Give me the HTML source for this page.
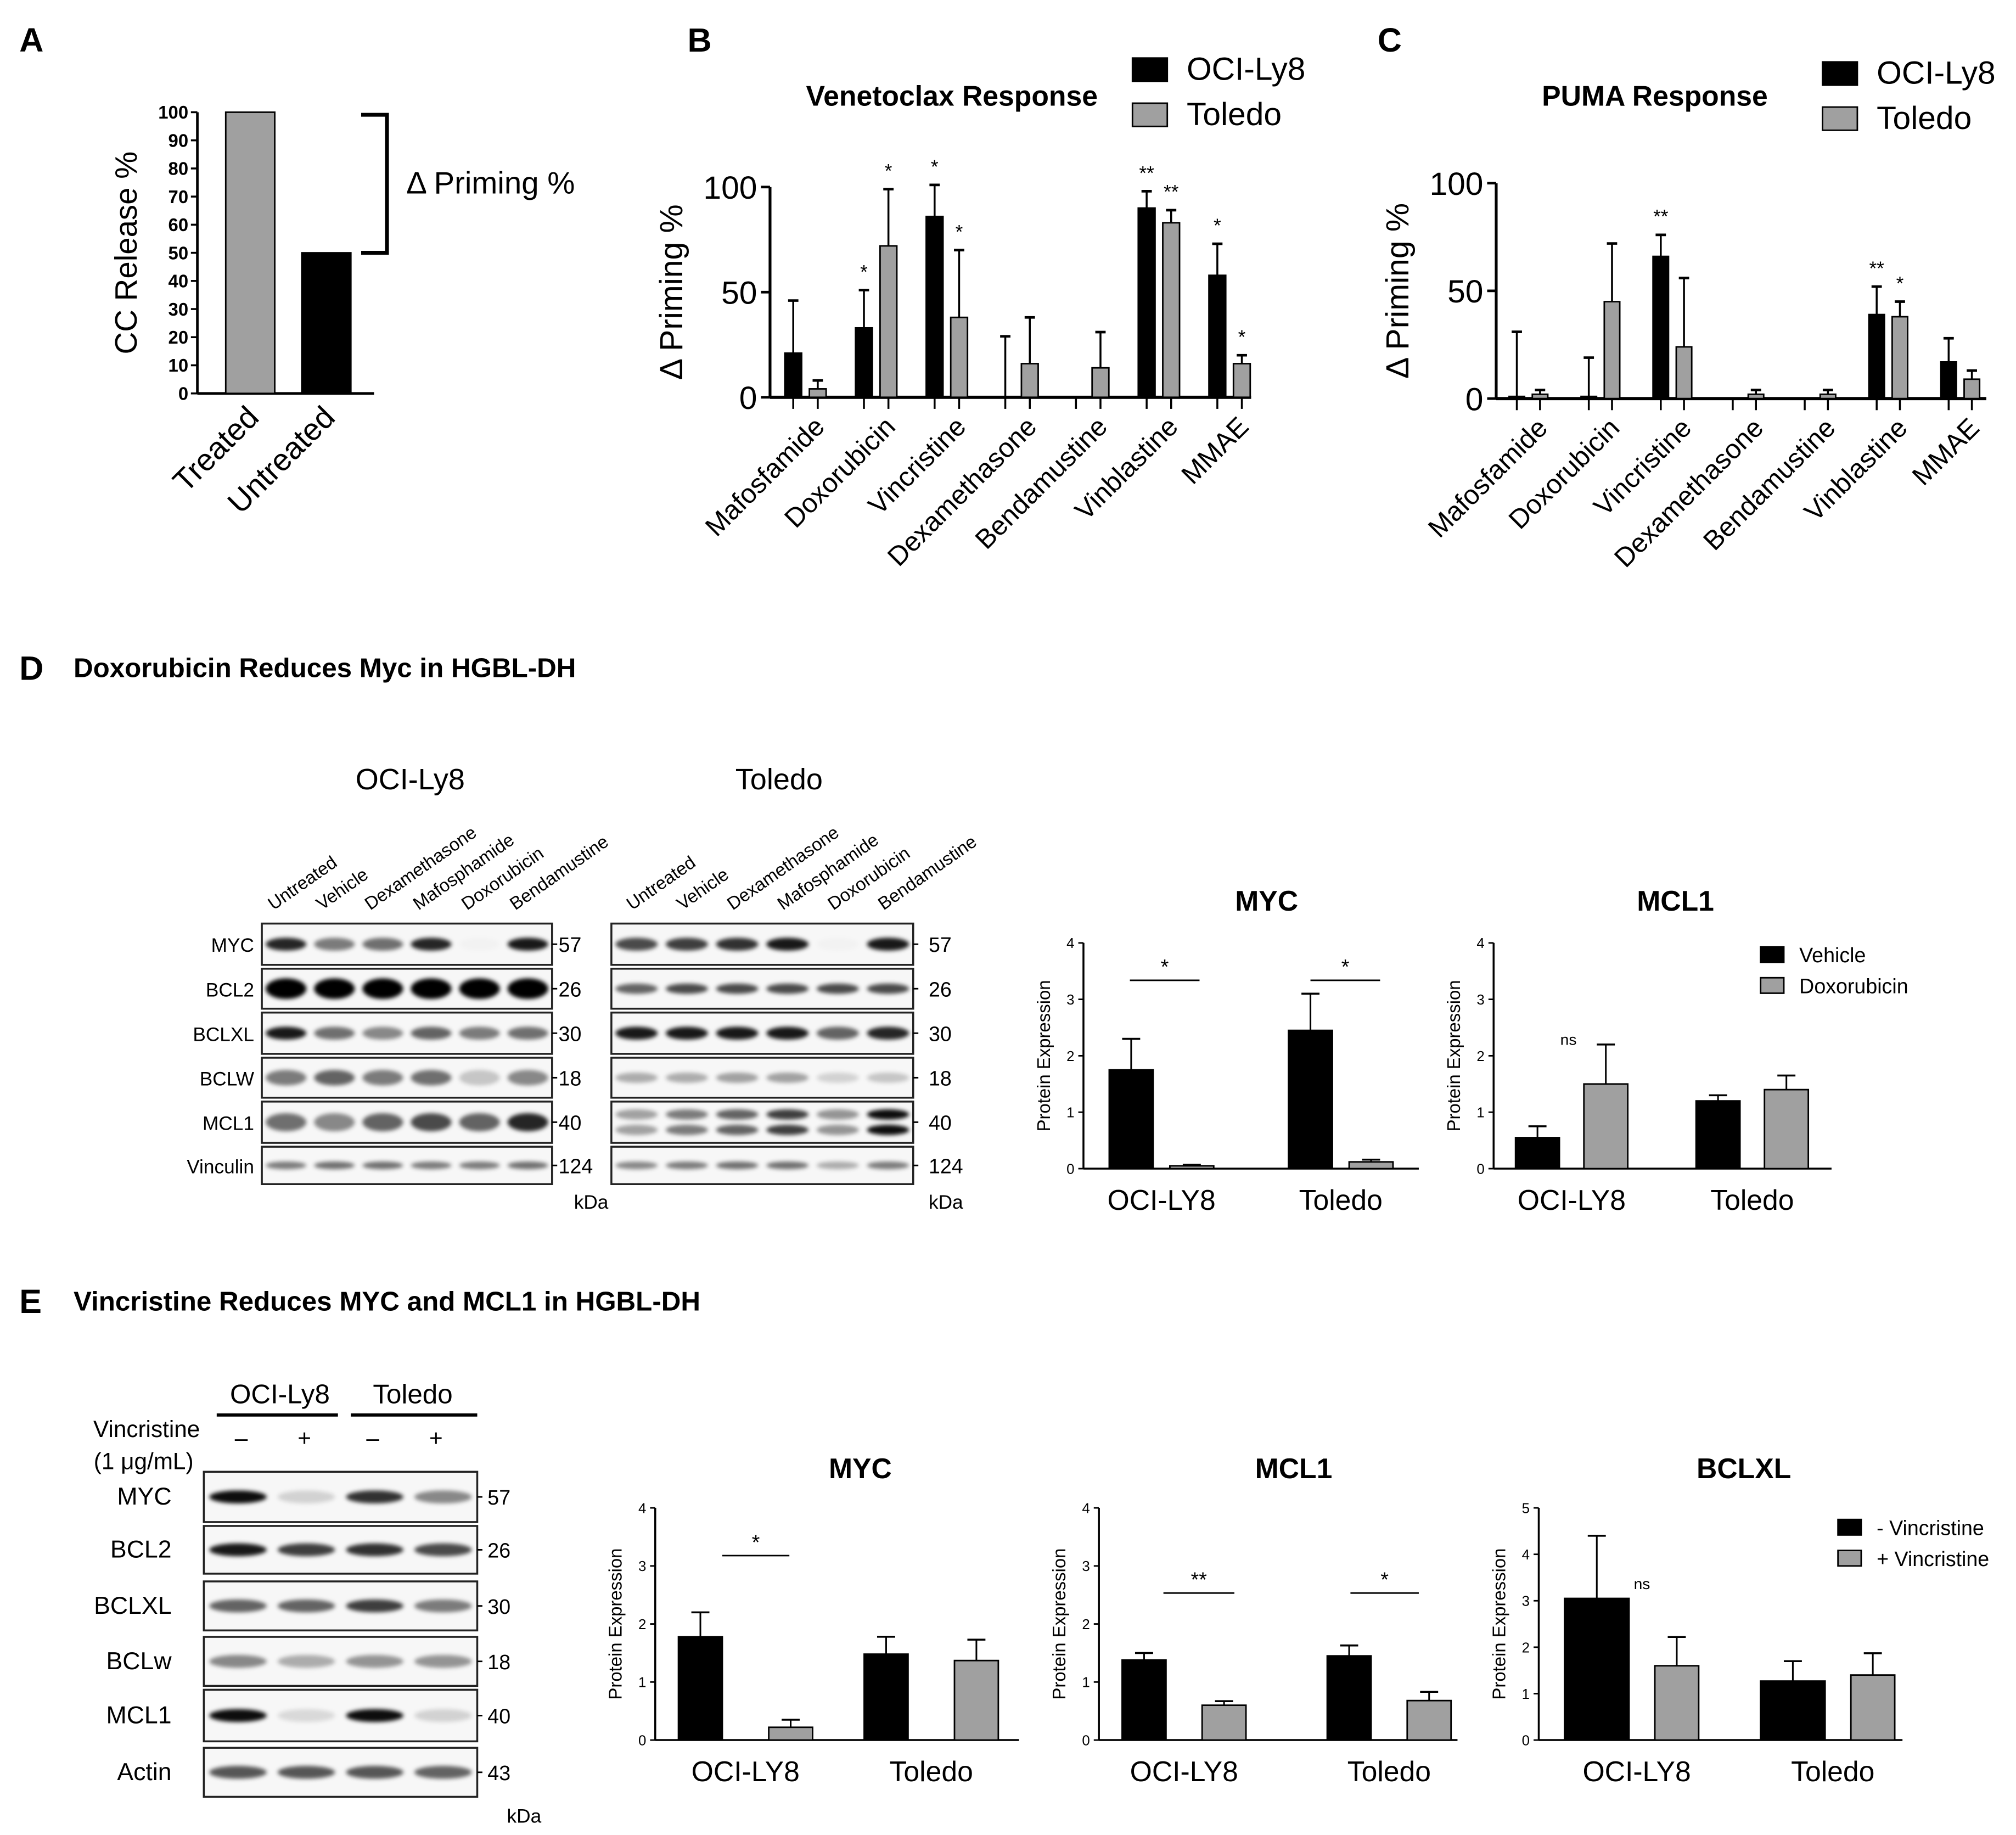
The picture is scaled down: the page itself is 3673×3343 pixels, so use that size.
<!DOCTYPE html>
<html><head><meta charset="utf-8"><style>
html,body{margin:0;padding:0;background:#fff;}
svg{display:block;font-family:"Liberation Sans",Arial,sans-serif;}
</style></head><body>
<svg id="fig" xmlns="http://www.w3.org/2000/svg" width="3673" height="3343" viewBox="0 0 1563 1422.6">
<defs><filter id="blur" x="-20%" y="-100%" width="140%" height="300%"><feGaussianBlur stdDeviation="1.6"/></filter></defs>
</svg>
<script>
// ---- Panel B data ----
const bCategories=["Mafosfamide","Doxorubicin","Vincristine","Dexamethasone","Bendamustine","Vinblastine","MMAE"];
const bOci=[21,33,86,0,0,90,58];
const bOciErr=[46,51,101,29,0,98,73];
const bTol=[4,72,38,16,14,83,16];
const bTolErr=[8,99,70,38,31,89,20];
const bOciSig=["","*","*","","","**","*"];
const bTolSig=["","*","*","","","**","*"];
// ---- Panel C data ----
const cOci=[1,1,66,0,0,39,17];
const cOciErr=[31,19,76,0,0,52,28];
const cTol=[2,45,24,2,2,38,9];
const cTolErr=[4,72,56,4,4,45,13];
const cOciSig=["","","**","","","**",""];
const cTolSig=["","","","","","*",""];
// ---- Panel A data ----
const aCategories=["Treated","Untreated"];
const aValues=[100,50];
const aTicks=[0,10,20,30,40,50,60,70,80,90,100];
// ---- Panel D/E small charts ----
const cellLines=["OCI-LY8","Toledo"];
const dMycVeh=[1.75,2.45], dMycVehErr=[2.3,3.1], dMycDox=[0.05,0.12], dMycDoxErr=[0.07,0.16];
const dMclVeh=[0.55,1.2], dMclVehErr=[0.75,1.3], dMclDox=[1.5,1.4], dMclDoxErr=[2.2,1.65];
const eMycMinus=[1.78,1.48], eMycMinusErr=[2.2,1.78], eMycPlus=[0.22,1.37], eMycPlusErr=[0.35,1.73];
const eMclMinus=[1.38,1.45], eMclMinusErr=[1.5,1.63], eMclPlus=[0.6,0.68], eMclPlusErr=[0.67,0.83];
const eBclMinus=[3.05,1.27], eBclMinusErr=[4.4,1.7], eBclPlus=[1.6,1.4], eBclPlusErr=[2.22,1.87];
const ticks4=[0,1,2,3,4], ticks5=[0,1,2,3,4,5], ticks100=[0,50,100];

const NS="http://www.w3.org/2000/svg";
const svg=document.getElementById('fig');
function mk(tag,attrs,parent){const e=document.createElementNS(NS,tag);for(const k in attrs)e.setAttribute(k,attrs[k]);(parent||svg).appendChild(e);return e;}
function txt(s,x,y,size,opts,name){const o=opts||{};const e=mk('text',{x:x,y:y,'font-size':size,'text-anchor':o.anchor||'start','font-weight':o.bold?'bold':'normal',fill:'#000'});
 if(o.rot!==undefined)e.setAttribute('transform','rotate('+o.rot+' '+x+' '+y+')');
 if(o.italic)e.setAttribute('font-style','italic');
 e.textContent=s;
 
 
 return e;}
function line(x1,y1,x2,y2,w,name){const e=mk('line',{x1:x1,y1:y1,x2:x2,y2:y2,stroke:'#000','stroke-width':w||1.5});
 
 return e;}
function rect(x,y,w,h,fill,name){const e=mk('rect',{x:x,y:y,width:w,height:h,fill:fill,stroke:'#000','stroke-width':1.2});
 
 return e;}

txt("A",15,40,26,{bold:1},"panel-label-a");
txt("B",533,40,26,{bold:1},"panel-label-b");
txt("C",1068,40,26,{bold:1},"panel-label-c");
txt("D",15,527,26,{bold:1},"panel-label-d");
txt("Doxorubicin Reduces Myc in HGBL-DH",57,525,21,{bold:1},"panel-d-title");
txt("E",15,1018,26,{bold:1},"panel-label-e");
txt("Vincristine Reduces MYC and MCL1 in HGBL-DH",57,1016,21,{bold:1},"panel-e-title");

// ---- Panel A ----
(function(){
 const x0=153,y0=305,yT=87,max=100;const ys=v=>y0-(v/max)*(y0-yT);
 line(x0,yT,x0,y0,2,'y-axis');line(x0,y0,290,y0,2,'x-axis');
 aTicks.forEach(t=>{line(x0-5,ys(t),x0,ys(t),1.5,'y-tick');txt(String(t),x0-7,ys(t)+5,14,{anchor:'end',bold:1},'y-tick-label');});
 const cx=[194,253],fills=['#a0a0a0','#000'];
 aValues.forEach((v,i)=>{rect(cx[i]-19,ys(v),38,y0-ys(v),fills[i],'bar-'+aCategories[i].toLowerCase());
  txt(aCategories[i],cx[i]+8,y0+20,24,{anchor:'end',rot:-45},'x-tick-label');});
 txt("CC Release %",106,196,24,{anchor:'middle',rot:-90},'y-axis-title');
 const br=mk('path',{d:'M280 89 H300 V196 H280',fill:'none',stroke:'#000','stroke-width':3});
 
 
 txt("\u0394 Priming %",315,150,24,{},'bracket-label');
})();

function groupChart(o){
 const ys=v=>o.y0-(v/100)*(o.y0-o.yT);
 line(o.x0,o.yT,o.x0,o.y0,2.2,'y-axis');line(o.x0,o.y0,o.xEnd,o.y0,2.5,'x-axis');
 ticks100.forEach(t=>{line(o.x0-7,ys(t),o.x0,ys(t),2,'y-tick');txt(String(t),o.x0-10,ys(t)+9,25,{anchor:'end'},'y-tick-label');});
 const series=[[o.oci,o.ociErr,o.ociSig,'#000',0],[o.tol,o.tolErr,o.tolSig,'#a0a0a0',o.off]];
 bCategories.forEach((c,i)=>{
  const gx=o.first+o.step*i;
  series.forEach(s=>{
   const cx=gx+s[4],v=s[0][i],e=s[1][i];
   if(e>v){line(cx,ys(e),cx,ys(v),1.5,'error-bar');line(cx-4,ys(e),cx+4,ys(e),2,'error-cap');}
   rect(cx-o.bw/2,ys(v),o.bw,o.y0-ys(v),s[3],'bar-'+c.toLowerCase());
   line(cx,o.y0,cx,o.y0+9,1.5,'x-tick');
   if(s[2][i])txt(s[2][i],cx,ys(e)-9,15,{anchor:'middle'},'significance');
  });
  txt(c,gx+o.off/2+16,o.y0+24,21,{anchor:'end',rot:-45},'x-tick-label');
 });
 txt("\u0394 Priming %",o.x0-68,(o.y0+o.yT)/2,25,{anchor:'middle',rot:-90},'y-axis-title');
 txt(o.title,o.tx,82,22,{anchor:'middle',bold:1},'chart-title');
 rect(o.lx,o.ly,27,18,'#000','legend-swatch-oci-ly8');
 txt("OCI-Ly8",o.lx+42,o.ly+17,25,{},'legend-entry-oci-ly8');
 rect(o.lx,o.ly+35,27,18,'#a0a0a0','legend-swatch-toledo');
 txt("Toledo",o.lx+42,o.ly+52,25,{},'legend-entry-toledo');
}
groupChart({x0:597,y0:308,yT:145,xEnd:970,first:615,step:54.8,off:19,bw:13,oci:bOci,ociErr:bOciErr,ociSig:bOciSig,tol:bTol,tolErr:bTolErr,tolSig:bTolSig,title:"Venetoclax Response",tx:738,lx:878,ly:45});
groupChart({x0:1160,y0:309,yT:142,xEnd:1540,first:1176,step:55.8,off:18,bw:12,oci:cOci,ociErr:cOciErr,ociSig:cOciSig,tol:cTol,tolErr:cTolErr,tolSig:cTolSig,title:"PUMA Response",tx:1283,lx:1413,ly:48});

function smallChart(o){
 const ys=v=>o.y0-(v/o.max)*(o.y0-o.yT);
 line(o.x0,o.yT,o.x0,o.y0,1.5,'y-axis');line(o.x0,o.y0,o.xEnd,o.y0,1.5,'x-axis');
 o.ticks.forEach(t=>{line(o.x0-4,ys(t),o.x0,ys(t),1.2,'y-tick');txt(String(t),o.x0-7,ys(t)+4,11,{anchor:'end'},'y-tick-label');});
 const series=[[o.a,o.aErr,'#000',0,o.bwA||34],[o.b,o.bErr,'#a0a0a0',o.off,34]];
 cellLines.forEach((c,i)=>{
  const gx=o.first+o.step*i;
  series.forEach(s=>{
   const cx=gx+s[3],v=s[0][i],e=s[1][i];
   line(cx,ys(e),cx,ys(v),1.3,'error-bar');line(cx-7,ys(e),cx+7,ys(e),1.5,'error-cap');
   rect(cx-s[4]/2,ys(v),s[4],o.y0-ys(v),s[2],'bar-'+c.toLowerCase());
  });
  txt(c,gx+o.off/2,o.y0+32,22,{anchor:'middle'},'x-tick-label');
 });
 txt("Protein Expression",o.x0-26,(o.y0+o.yT)/2,14,{anchor:'middle',rot:-90},'y-axis-title');
 txt(o.title,o.tx,o.ty,22,{anchor:'middle',bold:1},'chart-title');
 (o.sig||[]).forEach(s=>{line(s[0],s[2],s[1],s[2],1.2,'significance-line');txt(s[3],(s[0]+s[1])/2,s[2]-5,16,{anchor:'middle'},'significance');});
 if(o.ns)txt('ns',o.ns[0],o.ns[1],12,{anchor:'middle'},'ns-label');
 if(o.legend){rect(o.legend[0],o.legend[1],18,12,'#000','legend-swatch');txt(o.legend[2],o.legend[0]+30,o.legend[1]+12,16,{},'legend-entry');
  rect(o.legend[0],o.legend[1]+24,18,12,'#a0a0a0','legend-swatch');txt(o.legend[3],o.legend[0]+30,o.legend[1]+36,16,{},'legend-entry');}
}
smallChart({x0:840,y0:906,yT:731,xEnd:1100,max:4,ticks:ticks4,first:877,step:139,off:47,a:dMycVeh,aErr:dMycVehErr,b:dMycDox,bErr:dMycDoxErr,title:"MYC",tx:982,ty:706,sig:[[876,930,760,'*'],[1016,1070,760,'*']]});
smallChart({x0:1158,y0:906,yT:731,xEnd:1420,max:4,ticks:ticks4,first:1192,step:140,off:53,a:dMclVeh,aErr:dMclVehErr,b:dMclDox,bErr:dMclDoxErr,title:"MCL1",tx:1299,ty:706,ns:[1216,810],legend:[1365,734,'Vehicle','Doxorubicin']});
smallChart({x0:508,y0:1349,yT:1169,xEnd:790,max:4,ticks:ticks4,first:543,step:144,off:70,a:eMycMinus,aErr:eMycMinusErr,b:eMycPlus,bErr:eMycPlusErr,title:"MYC",tx:667,ty:1146,sig:[[560,612,1206,'*']]});
smallChart({x0:852,y0:1349,yT:1169,xEnd:1130,max:4,ticks:ticks4,first:887,step:159,off:62,a:eMclMinus,aErr:eMclMinusErr,b:eMclPlus,bErr:eMclPlusErr,title:"MCL1",tx:1003,ty:1146,sig:[[902,957,1235,'**'],[1047,1100,1235,'*']]});
smallChart({x0:1193,y0:1349,yT:1169,xEnd:1475,max:5,ticks:ticks5,first:1238,step:152,off:62,bwA:50,a:eBclMinus,aErr:eBclMinusErr,b:eBclPlus,bErr:eBclPlusErr,title:"BCLXL",tx:1352,ty:1146,ns:[1273,1232],legend:[1425,1178,'- Vincristine','+ Vincristine']});

function blot(x,w,rows,lanes,labelX,kdaX,name){
 rows.forEach(r=>{
  const g=mk('g',{});
  
  mk('rect',{x:x,y:r.y,width:w,height:r.h,fill:'#f7f7f7',stroke:'#222','stroke-width':1.5},g);
  const lw=w/lanes;
  r.v.forEach((v,i)=>{
   const cy=r.y+r.h/2;
   (r.dbl?[-6,6]:[0]).forEach(dy=>{
    mk('ellipse',{cx:x+lw*(i+0.5),cy:cy+dy,rx:lw*0.42,ry:r.bh||5,fill:'#000','fill-opacity':v,filter:'url(#blur)'},g);
   });
  });
  if(labelX!==null)txt(r.n,labelX,r.y+r.h/2+6,r.fs||15,{anchor:'end'},'blot-row-label');
  line(x+w,r.y+r.h/2,x+w+4,r.y+r.h/2,1.2,'kda-tick');
  txt(r.k,kdaX,r.y+r.h/2+6,16,{},'kda-value');
 });
}
const dRowsA=[{n:'MYC',y:716,h:32,k:'57',v:[.85,.5,.55,.85,0.02,.9]},{n:'BCL2',y:751,h:31,k:'26',v:[1,1,1,1,1,1],bh:8},{n:'BCLXL',y:785,h:32,k:'30',v:[.9,.55,.45,.6,.5,.55]},{n:'BCLW',y:820,h:31,k:'18',v:[.5,.6,.5,.55,.2,.45],bh:6},{n:'MCL1',y:854,h:32,k:'40',v:[.55,.45,.6,.7,.6,.85],bh:7},{n:'Vinculin',y:889,h:29,k:'124',v:[.5,.55,.55,.5,.5,.55],bh:3}];
blot(203,225,dRowsA,6,197,433,'blot-oci-ly8');
const dRowsB=[{n:'MYC',y:716,h:32,k:'57',v:[.7,.75,.8,.9,0.02,.9]},{n:'BCL2',y:751,h:31,k:'26',v:[.6,.7,.7,.7,.7,.7],bh:4},{n:'BCLXL',y:785,h:32,k:'30',v:[.9,.9,.9,.9,.6,.85]},{n:'BCLW',y:820,h:31,k:'18',v:[.3,.3,.35,.35,.15,.2],bh:4},{n:'MCL1',y:854,h:32,k:'40',v:[.35,.5,.6,.75,.4,.95],dbl:1,bh:4},{n:'Vinculin',y:889,h:29,k:'124',v:[.45,.5,.55,.55,.3,.5],bh:3}];
blot(474,234,dRowsB,6,null,720,'blot-toledo');
txt('OCI-Ly8',318,612,23,{anchor:'middle'},'blot-header-oci-ly8');
txt('Toledo',604,612,23,{anchor:'middle'},'blot-header-toledo');
const laneNames=['Untreated','Vehicle','Dexamethasone','Mafosphamide','Doxorubicin','Bendamustine'];
laneNames.forEach((n,i)=>{txt(n,212+37.5*i,706,14,{rot:-35},'lane-label');txt(n,490+39*i,706,14,{rot:-35},'lane-label');});
txt('kDa',445,937,15,{},'kda-unit');txt('kDa',720,937,15,{},'kda-unit');

const eRows=[{n:'MYC',y:1141,h:39,k:'57',v:[.95,.15,.8,.45],fs:19},{n:'BCL2',y:1183,h:37,k:'26',v:[.9,.75,.8,.7],fs:19},{n:'BCLXL',y:1226,h:38,k:'30',v:[.6,.6,.75,.5],fs:19},{n:'BCLw',y:1269,h:38,k:'18',v:[.45,.3,.4,.4],fs:19},{n:'MCL1',y:1310,h:40,k:'40',v:[.95,.12,.95,.15],fs:19},{n:'Actin',y:1355,h:38,k:'43',v:[.65,.65,.65,.6],fs:19}];
blot(158,212,eRows,4,133,378,'blot-vincristine');
txt('OCI-Ly8',217,1088,21,{anchor:'middle'},'blot-header-oci-ly8');
txt('Toledo',320,1088,21,{anchor:'middle'},'blot-header-toledo');
line(168,1097,262,1097,2.5,'group-underline');line(272,1097,370,1097,2.5,'group-underline');
txt('Vincristine',155,1114,18,{anchor:'end'},'treatment-label');
txt('(1 \u03bcg/mL)',150,1139,18,{anchor:'end'},'treatment-dose');
['\u2013','+','\u2013','+'].forEach((s,i)=>txt(s,[187,236,289,338][i],1121,18,{anchor:'middle'},'treatment-sign'));
txt('kDa',393,1413,15,{},'kda-unit');
</script>
</body></html>
